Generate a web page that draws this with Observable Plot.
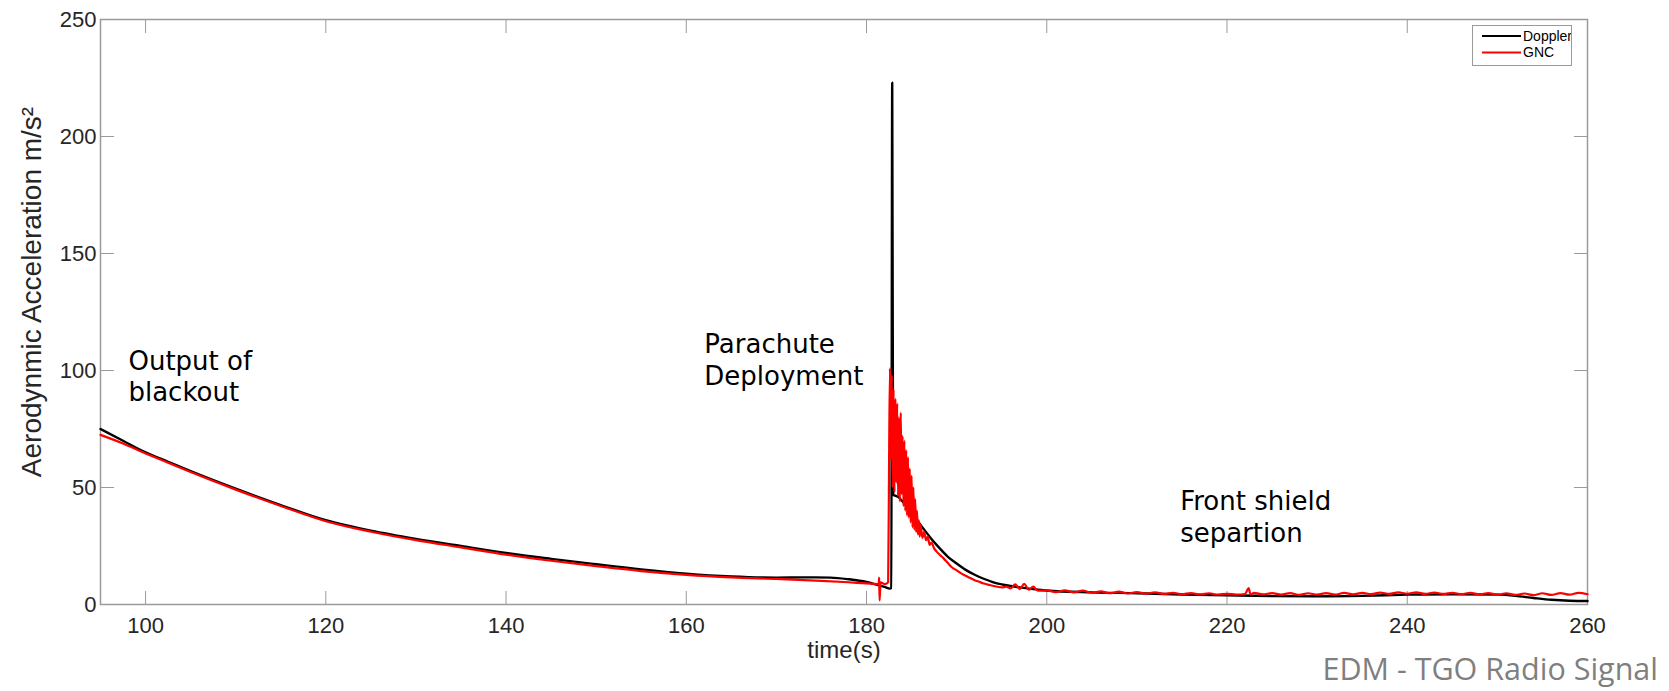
<!DOCTYPE html>
<html><head><meta charset="utf-8">
<script src="https://cdn.jsdelivr.net/npm/d3@7"></script>
<script src="https://cdn.jsdelivr.net/npm/@observablehq/plot@0.6"></script>
<style>
body{margin:0;background:#fff;}
#wrap{position:relative;width:1669px;height:691px;overflow:hidden;}
#legend{position:absolute;left:1472px;top:25px;width:100px;height:41px;box-sizing:border-box;border:1px solid #9a9a9a;background:#fff;}
#caption{position:absolute;right:11px;top:647px;font-family:"Open Sans",sans-serif;font-size:30.5px;color:#7f7f7f;white-space:nowrap;}
</style>
</head><body>
<div id="wrap"><div id="chart"></div>
<div id="legend"></div>
<div id="caption"></div></div>
<script>
// ---- data ----
const xTicks = [100, 120, 140, 160, 180, 200, 220, 240, 260];
const yTicks = [0, 50, 100, 150, 200, 250];
const seriesNames = ["Doppler", "GNC"];
const seriesColors = ["#000000", "#ff0000"];
const xLabel = "time(s)";
const yLabel = "Aerodynmic Acceleration m/s²";
const captionText = "EDM - TGO Radio Signal";

const dopplerT = [95, 97.5, 100, 102.5, 105, 110, 115, 120, 125, 130, 135, 140, 145, 150, 155, 160, 165, 170, 173, 176, 178, 180, 181, 182, 182.6, 182.75,
  182.85, 182.95, 183.5, 184, 185, 186, 187, 188, 189, 190, 191, 192, 193, 194, 195, 196, 197, 198, 200,
  205, 210, 215, 220, 225, 230, 235, 240, 245, 250, 252, 254, 256, 258, 260];
const dopplerV = [75, 70, 65, 61, 57, 49.5, 42.5, 36, 31.5, 28, 25, 22, 19.5, 17.2, 15, 13.2, 12, 11.5, 11.6, 11.5, 10.8, 9.6, 8.6, 7.5, 6.8, 7,
  223, 47, 46, 44, 39, 34, 29, 24.5, 20.5, 17.5, 14.8, 12.7, 11, 9.6, 8.6, 7.9, 7.3, 6.8, 6.0,
  5.2, 4.8, 4.3, 3.9, 3.6, 3.5, 3.7, 4.2, 4.4, 4.2, 3.7, 2.8, 2.0, 1.6, 1.5];

const gncT = [95, 97.5, 100, 102.5, 105, 110, 115, 120, 125, 130, 135, 140, 145, 150, 155, 160, 165, 170, 175, 178, 180, 181, 181.35, 181.4, 181.45, 181.55, 182, 182.4,
  182.5, 182.6, 182.7, 182.8, 182.9, 183.0, 183.1, 183.2, 183.3, 183.4, 183.5, 183.6, 183.7, 183.8, 183.9, 184.0, 184.1, 184.2, 184.3, 184.4, 184.5, 184.6, 184.7, 184.8, 184.9,
  185.0, 185.1, 185.2, 185.3, 185.4, 185.5, 185.6, 185.7, 185.8, 185.9, 186.0, 186.2, 186.4, 186.6, 186.8, 187.0, 187.2, 187.5, 187.8, 188.2, 188.6, 189.0, 189.5,
  190.0, 190.5, 191.0, 191.5, 192.0, 192.5, 193.0, 193.5, 194.0, 194.5, 195.0, 195.5, 196.0, 196.5, 197.0, 197.5, 198.0, 198.5, 199.0,
  200, 201, 202, 203, 204, 205, 206, 207, 208, 209, 210, 211, 212, 213, 214, 215, 216, 217, 218, 219, 220, 221, 222, 222.4, 222.6, 223,
  224, 225, 226, 227, 228, 229, 230, 231, 232, 233, 234, 235, 236, 237, 238, 239, 240, 241, 242, 243, 244, 245, 246, 247, 248, 249,
  250, 251, 252, 253, 254, 255, 256, 257, 258, 259, 260];
const gncV = [72.5, 68.8, 64.5, 60.6, 56.6, 49.1, 42.1, 35.6, 31.1, 27.5, 24.4, 21.3, 18.7, 16.4, 14.3, 12.7, 11.6, 10.9, 10.1, 9.5, 9.0, 8.8, 8.7, 11.5, 1.7, 9.5, 8.7, 9.5,
  60, 101, 62, 98, 50, 92, 48, 88, 52, 86, 46, 80, 44, 82, 47, 72, 42, 70, 40, 66, 38, 63, 37, 58, 35,
  55, 33, 50, 32, 45, 31, 40, 30, 36, 29, 34, 28.5, 31, 27.5, 29, 25.5, 26.5, 24, 22.5, 21, 19.5, 17.8, 15.8,
  14.6, 13.3, 12.3, 11.3, 10.4, 9.7, 9.0, 8.5, 8.0, 7.6, 7.3, 7.6, 6.9, 8.6, 6.6, 8.8, 6.3, 7.6, 5.9,
  6.0, 5.3, 6.0, 5.2, 5.9, 5.0, 5.6, 4.8, 5.5, 4.7, 5.3, 4.6, 5.2, 4.5, 5.0, 4.4, 4.9, 4.3, 4.8, 4.2, 4.6, 4.2, 4.5, 7.0, 4.3, 5.0,
  4.3, 4.9, 4.2, 4.9, 4.1, 4.8, 4.2, 4.9, 4.2, 5.0, 4.3, 5.0, 4.4, 5.1, 4.5, 5.2, 4.6, 5.2, 4.5, 5.1, 4.5, 5.0, 4.4, 5.0, 4.3, 4.9,
  4.2, 4.8, 4.1, 4.7, 4.0, 4.8, 4.1, 4.9, 4.2, 5.0, 4.4];

const annotationText = ["Output of\nblackout", "Parachute\nDeployment", "Front shield\nsepartion"];
const annotationX = [98.1, 162.0, 214.8];
const annotationY = [110, 117, 49.8];

// ---- tables ----
const doppler = dopplerT.map((t, i) => ({t, v: dopplerV[i]}));
const gnc = gncT.map((t, i) => ({t, v: gncV[i]}));
const annotations = annotationText.map((text, i) => ({text, x: annotationX[i], y: annotationY[i]}));

const axisGray = "#9a9a9a";
const chart = Plot.plot({
  width: 1669, height: 691,
  marginLeft: 100, marginRight: 82, marginTop: 19, marginBottom: 87,
  x: {domain: [95, 260]},
  y: {domain: [0, 250]},
  style: {fontFamily: "'Liberation Sans', Arial, sans-serif", fontSize: "22px", color: "#262626", background: "#fff"},
  marks: [
    Plot.axisX(xTicks, {anchor: "bottom", tickSize: -13, tickPadding: 26, stroke: axisGray, label: null, fontSize: 22}),
    Plot.axisX(xTicks, {anchor: "top", tickSize: -13, tickFormat: () => "", stroke: axisGray, label: null}),
    Plot.axisY(yTicks, {anchor: "left", tickSize: -14, tickPadding: 18, stroke: axisGray, label: null, fontSize: 22}),
    Plot.axisY(yTicks, {anchor: "right", tickSize: -14, tickFormat: () => "", stroke: axisGray, label: null}),
    Plot.frame({stroke: axisGray, strokeWidth: 1.5}),
    Plot.line(doppler, {x: "t", y: "v", stroke: seriesColors[0], strokeWidth: 2.4, curve: "monotone-x"}),
    Plot.line(gnc, {x: "t", y: "v", stroke: seriesColors[1], strokeWidth: 2.2, curve: "monotone-x"}),
    Plot.text(annotations, {x: "x", y: "y", text: "text", textAnchor: "start", lineAnchor: "top", lineHeight: 1.22,
      fontFamily: "'DejaVu Sans', Verdana, sans-serif", fontSize: 26, fill: "#000"}),
    Plot.text([xLabel], {frameAnchor: "bottom", dy: 53, fontSize: 24}),
    Plot.text([yLabel], {frameAnchor: "left", textAnchor: "middle", rotate: -90, dx: -68, dy: -20, fontSize: 28})
  ]
});
document.getElementById("chart").appendChild(chart);

// legend
const lg = d3.select("#legend").append("svg").attr("width", 98).attr("height", 39)
  .style("font-family", "'Liberation Sans', Arial, sans-serif").style("font-size", "14px");
seriesNames.forEach((name, i) => {
  const yy = 10 + i * 16.5;
  lg.append("line").attr("x1", 9).attr("x2", 48).attr("y1", yy).attr("y2", yy)
    .attr("stroke", seriesColors[i]).attr("stroke-width", 2.2);
  lg.append("text").attr("x", 50).attr("y", yy).attr("dy", "0.35em").attr("fill", "#000").text(name);
});
document.getElementById("caption").textContent = captionText;
</script>
</body></html>
